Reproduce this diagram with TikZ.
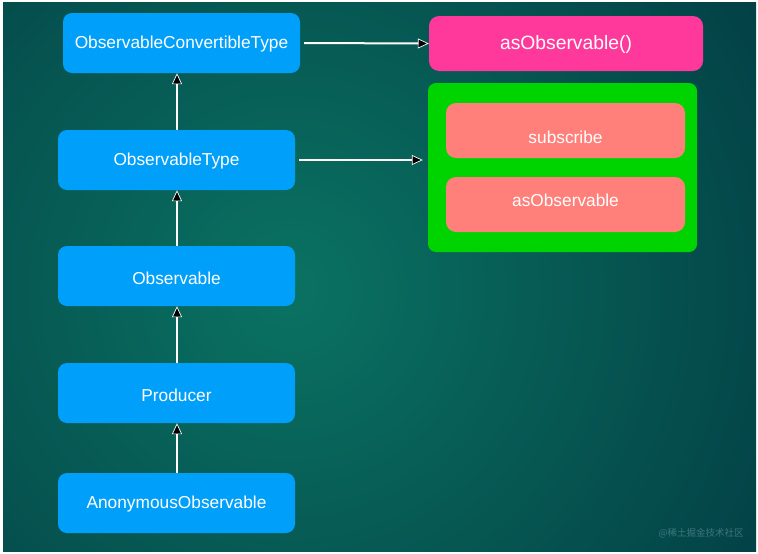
\documentclass[tikz,border=0pt]{standalone}
\usepackage{fontspec}
\setmainfont{Liberation Sans}
\newfontfamily\cjkfont{Noto Sans CJK SC}
\usetikzlibrary{arrows.meta}
\definecolor{bgin}{RGB}{10,114,98}
\definecolor{bgout}{RGB}{2,58,66}
\definecolor{bluebox}{RGB}{0,160,250}
\definecolor{pinkbox}{RGB}{255,56,156}
\definecolor{greenbox}{RGB}{0,212,0}
\definecolor{salmon}{RGB}{255,127,122}
\definecolor{wmark}{RGB}{60,120,125}
\tikzset{
  txt/.style={text=white, inner sep=0pt, font=\fontsize{17.3}{20}\selectfont},
  bluenode/.style={draw=none, fill=bluebox, rounded corners=9pt, minimum width=237pt, minimum height=60pt, inner sep=0pt},
  methodnode/.style={fill=salmon, rounded corners=10pt, minimum width=239pt, minimum height=55pt, inner sep=0pt},
  conn/.style={draw=white, line width=2pt, -{Triangle[width=10pt,length=11pt,fill=black,line width=0.7pt]}},
}
\begin{document}
\begin{tikzpicture}[x=1pt, y=-1pt]
\useasboundingbox (0,0) rectangle (758,554);
\fill[white] (0,0) rectangle (758,554);
\begin{scope}
\clip (3,2) rectangle (756,551);
\fill[bgout] (3,2) rectangle (756,551);
\shade[inner color=bgin, outer color=bgout] (290,290) circle (620);
\end{scope}
% blue hierarchy
\node[bluenode, label={[txt, yshift=-1pt]center:ObservableConvertibleType}] (oct) at (181.5,43) {};
\node[bluenode, label={[txt, yshift=-1pt]center:ObservableType}] (ot) at (176.5,160) {};
\node[bluenode, label={[txt, yshift=-2pt]center:Observable}] (obs) at (176.5,276) {};
\node[bluenode, label={[txt, yshift=-2pt]center:Producer}] (prod) at (176.5,393) {};
\node[bluenode, label={[txt, yshift=-1pt]center:AnonymousObservable}] (anon) at (176.5,503) {};
% right side
\node[fill=pinkbox, rounded corners=10pt, minimum width=274pt, minimum height=55pt, inner sep=0pt,
      label={[txt, font=\fontsize{19.3}{22}\selectfont, yshift=-1pt]center:asObservable()}] (asobs) at (566,43.5) {};
\node[fill=greenbox, rounded corners=8pt, minimum width=269pt, minimum height=169pt, inner sep=0pt] (grp) at (562.5,167.5) {};
\node[methodnode, label={[txt, yshift=-6.5pt]center:subscribe}] (sub) at (565.5,130.5) {};
\node[methodnode, label={[txt, yshift=4.5pt]center:asObservable}] (asobs2) at (565.5,204.5) {};
% connectors
\draw[conn] (ot.north -| 177,0) -- (oct.south -| 177,0);
\draw[conn] (obs.north -| 177,0) -- (ot.south -| 177,0);
\draw[conn] (prod.north -| 177,0) -- (obs.south -| 177,0);
\draw[conn] (anon.north -| 177,0) -- (prod.south -| 177,0);
\draw[conn, shorten <=4pt] (oct.east) -- (asobs.west);
\draw[conn, shorten <=4pt, shorten >=5pt] (ot.east) -- (ot.east -| grp.west);
% watermark
\node[text=wmark, font=\cjkfont\fontsize{9.5}{11}\selectfont, inner sep=0pt] (wm) at (701,533) {@稀土掘金技术社区};
\end{tikzpicture}
\end{document}
